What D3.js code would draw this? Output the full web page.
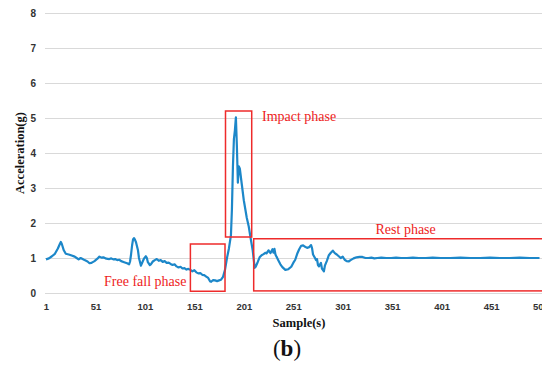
<!DOCTYPE html>
<html><head><meta charset="utf-8">
<script src="https://cdn.jsdelivr.net/npm/d3@7"></script>
<style>body{margin:0;background:#fff}svg{display:block}</style>
</head><body>
<svg id="c" width="542" height="370"></svg>
<script>
const xTicks = [1,51,101,151,201,251,301,351,401,451,501];
const yTicks = [0,1,2,3,4,5,6,7,8];
const samples = [1,4,7,10,13,15,16,17,19,21,24,27,30,32,34,36,38,40,43,45,47,50,53,55,57,59,62,65,67,69,71,73,75,77,80,83,85,86,87,88,89,90,91,92,94,95,97,98,100,102,103,104,106,107,109,111,113,115,117,119,121,123,125,127,129,131,133,135,137,139,141,143,145,147,149,151,153,155,157,159,161,163,165,167,168,170,172,174,176,178,180,182,184,186,188,189,190,191,192,193,194,195,196,197,199,201,204,206,208,210,212,213,215,217,219,221,223,224,226,228,230,231,232,233,234,236,238,240,243,246,249,251,253,255,257,259,261,263,265,267,269,270,271,273,274,275,276,277,279,280,282,283,285,287,289,291,293,295,297,299,301,303,305,307,309,312,315,318,321,324,327,330,333,336,340,345,350,355,360,366,372,378,385,392,400,410,420,430,440,450,460,470,480,490,500,510];
const accel = [0.96,0.99,1.05,1.12,1.27,1.40,1.46,1.40,1.22,1.12,1.10,1.07,1.04,1.00,0.96,1.00,0.97,0.94,0.90,0.85,0.86,0.91,0.98,1.04,1.01,1.02,0.98,0.97,0.99,0.96,0.97,0.94,0.95,0.91,0.88,0.85,0.82,0.90,1.10,1.35,1.53,1.57,1.52,1.45,1.22,1.00,0.78,0.85,0.98,1.05,1.00,0.88,0.80,0.82,0.90,0.94,0.97,0.92,0.94,0.89,0.91,0.86,0.87,0.83,0.80,0.82,0.76,0.73,0.75,0.70,0.71,0.67,0.69,0.66,0.62,0.65,0.59,0.56,0.57,0.52,0.51,0.47,0.43,0.33,0.32,0.37,0.36,0.34,0.36,0.38,0.46,0.66,1.00,1.28,1.65,2.40,3.60,4.40,4.65,5.02,4.20,3.15,3.62,3.55,3.10,2.65,2.15,1.90,1.55,1.22,0.72,0.75,0.88,1.02,1.08,1.11,1.15,1.13,1.22,1.14,1.25,1.15,1.26,1.10,1.04,0.93,0.82,0.74,0.66,0.68,0.75,0.86,0.95,1.12,1.25,1.35,1.36,1.32,1.29,1.31,1.37,1.28,1.10,1.00,0.94,0.97,0.80,0.76,0.86,0.70,0.62,0.78,0.92,1.08,1.15,1.21,1.14,1.10,1.05,1.00,1.04,0.95,0.91,0.90,0.94,0.99,1.02,1.03,1.03,1.00,1.00,1.01,0.99,1.00,1.01,1.00,1.00,1.01,1.00,1.00,1.01,1.00,1.00,1.01,1.00,1.00,1.01,1.00,1.00,1.01,1.00,1.00,1.01,1.00,1.00];
const phaseLabels = ["Free fall phase","Impact phase","Rest phase"];
const phaseBoxes = [[147,0.05,182,1.4],[182.5,1.6,209,5.2],[211,0.06,520,1.55]];

const svg = d3.select("#c");
const x = d3.scaleLinear().domain([1,501]).range([46,540.5]);
const y = d3.scaleLinear().domain([0,8]).range([293,13]);

// y axis with gridlines
const ya = svg.append("g").attr("transform","translate(45,0)")
  .call(d3.axisLeft(y).tickValues(yTicks).tickSize(-500).tickPadding(9).tickFormat(d3.format("d")));
ya.select(".domain").remove();
ya.selectAll("line").attr("stroke","#d9d9d9").attr("stroke-width",1);
ya.selectAll("text").attr("font-family","'Liberation Sans', Arial, sans-serif").attr("font-weight","bold").attr("font-size","10px").attr("fill","#333");

// x axis
const xa = svg.append("g").attr("transform","translate(0,293)")
  .call(d3.axisBottom(x).tickValues(xTicks).tickSize(0).tickPadding(10).tickFormat(d3.format("d")));
xa.select(".domain").remove();
xa.selectAll("text").attr("font-family","'Liberation Sans', Arial, sans-serif").attr("font-weight","bold").attr("font-size","9.5px").attr("fill","#333");

// line
const pts = samples.map((s,i)=>[s,accel[i]]);
svg.append("path").datum(pts)
  .attr("fill","none").attr("stroke","#1c87c9").attr("stroke-width",2.2).attr("stroke-linejoin","round")
  .attr("d", d3.line().x(d=>x(d[0])).y(d=>y(d[1])));

// red boxes
svg.selectAll("rect.ph").data(phaseBoxes).enter().append("rect")
  .attr("x",d=>x(d[0])).attr("y",d=>y(d[3]))
  .attr("width",d=>x(d[2])-x(d[0])).attr("height",d=>y(d[1])-y(d[3]))
  .attr("fill","none").attr("stroke","#ee2b2b").attr("stroke-width",1.5);

// phase labels
const labelPos = [[104,286],[262,120.5],[375.5,233.5]];
svg.selectAll("text.pl").data(phaseLabels).enter().append("text")
  .attr("x",(d,i)=>labelPos[i][0]).attr("y",(d,i)=>labelPos[i][1])
  .attr("font-family","'Liberation Serif', 'Times New Roman', serif").attr("font-size","14px")
  .attr("fill","#ee1c1c").text(d=>d);

// axis titles
svg.append("text").attr("transform","translate(24,153) rotate(-90)").attr("text-anchor","middle")
  .attr("font-family","'Liberation Serif', serif").attr("font-weight","bold").attr("font-size","12.5px").attr("fill","#111")
  .text("Acceleration(g)");
svg.append("text").attr("x",299).attr("y",327).attr("text-anchor","middle")
  .attr("font-family","'Liberation Serif', serif").attr("font-weight","bold").attr("font-size","12.5px").attr("fill","#111")
  .text("Sample(s)");
const b = svg.append("text").attr("x",287).attr("y",356).attr("text-anchor","middle")
  .attr("font-family","'Liberation Serif', serif").attr("font-size","23px").attr("fill","#111");
b.append("tspan").text("(");
b.append("tspan").attr("font-weight","bold").text("b");
b.append("tspan").text(")");
</script>
</body></html>
